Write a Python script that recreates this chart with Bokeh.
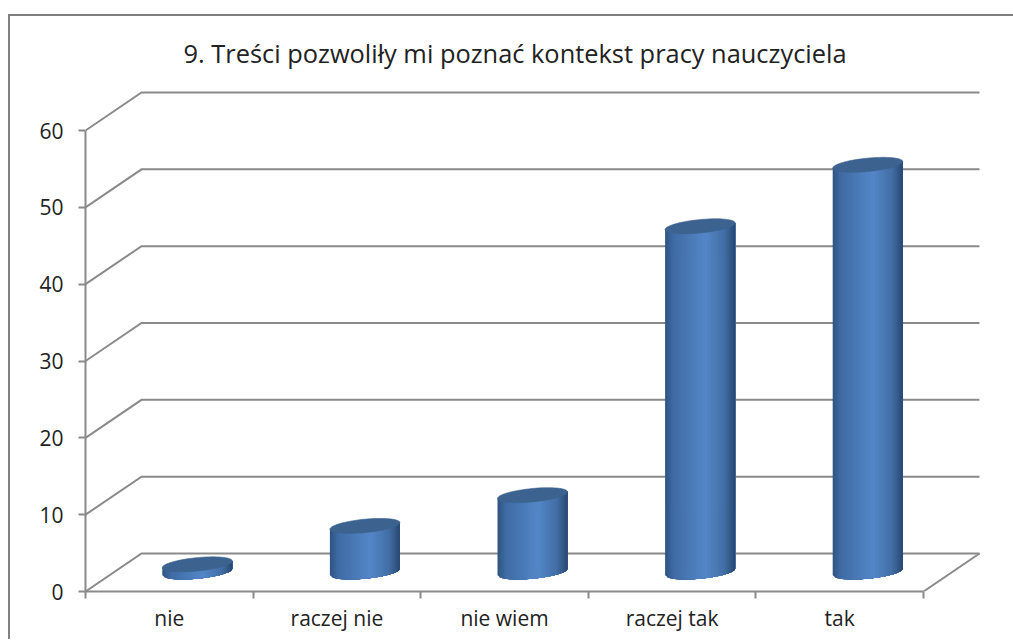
import numpy as np
from bokeh.plotting import figure
from bokeh.embed import file_html
from bokeh.resources import INLINE
from bokeh.models import Range1d, LinearAxis, FixedTicker

title = "9. Treści pozwoliły mi poznać kontekst pracy nauczyciela"
categories = ["nie", "raczej nie", "nie wiem", "raczej tak", "tak"]
values = [1, 6, 10, 45, 53]
y_ticks = [0, 10, 20, 30, 40, 50, 60]

FONT = "Open Sans"
GREY = "#8a8a8a"
TXT = "#222222"

# frame pixel extents and scale factors
FRAME_W, FRAME_H = 900, 503
PX_X = 167.6          # px per category
PX_Y = 7.683          # px per value unit
DEPTH_X = 56 / PX_X   # oblique depth in data units
DEPTH_Y = 38 / PX_Y

p = figure(width=1005, height=625, output_backend="svg", toolbar_location=None,
           x_range=Range1d(0, FRAME_W / PX_X), y_range=Range1d(0, FRAME_H / PX_Y),
           x_axis_type=None, y_axis_type=None,
           min_border_left=75, min_border_right=30, min_border_top=72, min_border_bottom=50,
           title=title, title_location="above")
p.margin = (14, 0, 0, 8)
p.styles = {"border-top": "2px solid #808080", "border-left": "2px solid #808080",
            "box-sizing": "border-box"}
p.outline_line_color = None
p.title.text_font = FONT
p.title.text_font_size = "25.4px"
p.title.text_font_style = "normal"
p.title.text_color = TXT
p.title.align = "left"
p.title.offset = 98
p.title.standoff = 35
p.title.vertical_align = "middle"

# axes
ya = LinearAxis(ticker=FixedTicker(ticks=y_ticks), bounds=(0, 60))
ya.axis_line_color = GREY
ya.axis_line_width = 2
ya.major_tick_line_color = GREY
ya.major_tick_line_width = 2
ya.major_tick_in = 0
ya.major_tick_out = 7
ya.minor_tick_line_color = None
ya.major_label_text_font = FONT
ya.major_label_text_font_size = "21px"
ya.major_label_text_color = TXT
ya.major_label_standoff = 15
p.add_layout(ya, "left")

n = len(categories)
centers = [i + 0.5 for i in range(n)]
xa = LinearAxis(ticker=FixedTicker(ticks=centers, minor_ticks=list(range(n + 1))), bounds=(0, n))
xa.major_label_overrides = {c: t for c, t in zip(centers, categories)}
xa.axis_line_color = GREY
xa.axis_line_width = 2
xa.major_tick_line_color = None
xa.major_tick_out = 0
xa.major_tick_in = 0
xa.minor_tick_line_color = GREY
xa.minor_tick_line_width = 2
xa.minor_tick_out = 7
xa.minor_tick_in = 0
xa.major_label_text_font = FONT
xa.major_label_text_font_size = "21px"
xa.major_label_text_color = TXT
xa.major_label_standoff = 5
p.add_layout(xa, "below")

# back wall gridlines and their diagonals into the axis
xs, ys = [], []
for t in y_ticks:
    xs.append([0, DEPTH_X, n + DEPTH_X])
    ys.append([t, t + DEPTH_Y, t + DEPTH_Y])
xs.append([n, n + DEPTH_X])
ys.append([0, DEPTH_Y])
p.multi_line(xs, ys, line_color=GREY, line_width=2, line_join="miter")

# cylinders: vertical strips for the shading, sheared ellipse for the caps
HALF_W = 35 / PX_X
SEMI_B = 6.7 / PX_Y
SHEAR = 3.3 / 35 * (PX_X / PX_Y)  # rise per x unit, data units
STOPS_POS = [0.0, 0.12, 0.58, 0.85, 1.0]
STOPS_RGB = np.array([[46, 84, 130], [64, 108, 165], [84, 135, 200], [66, 110, 165], [40, 72, 112]], float)
N = 35

for i, v in enumerate(values):
    cx = centers[i] + DEPTH_X / 2
    base = DEPTH_Y / 2 + 0.5 / PX_Y
    top = base + v
    edges = np.linspace(-HALF_W, HALF_W, N + 1)
    for a, b in zip(edges[:-1], edges[1:]):
        # each strip runs to the cylinder's right side; the next one paints over it, so no seams
        seg = np.linspace(a, HALF_W, 24)
        low = base + SHEAR * seg - SEMI_B * np.sqrt(np.clip(1 - (seg / HALF_W) ** 2, 0, 1))
        up = top + SHEAR * seg
        px = np.r_[cx + seg, cx + seg[::-1]]
        py = np.r_[low, up[::-1]]
        f = ((a + b) / 2 + HALF_W) / (2 * HALF_W)
        rgb = [int(np.interp(f, STOPS_POS, STOPS_RGB[:, k])) for k in range(3)]
        col = "#%02x%02x%02x" % tuple(rgb)
        p.patch(px, py, fill_color=col, line_color=None)
    tt = np.linspace(0, 2 * np.pi, 72)
    ex = HALF_W * np.cos(tt)
    ey = top + SHEAR * ex + SEMI_B * np.sin(tt)
    p.patch(cx + ex, ey, fill_color="#3c628f", line_color="#3c628f", line_width=0.6)

open("out.html", "w").write(file_html(p, INLINE))
